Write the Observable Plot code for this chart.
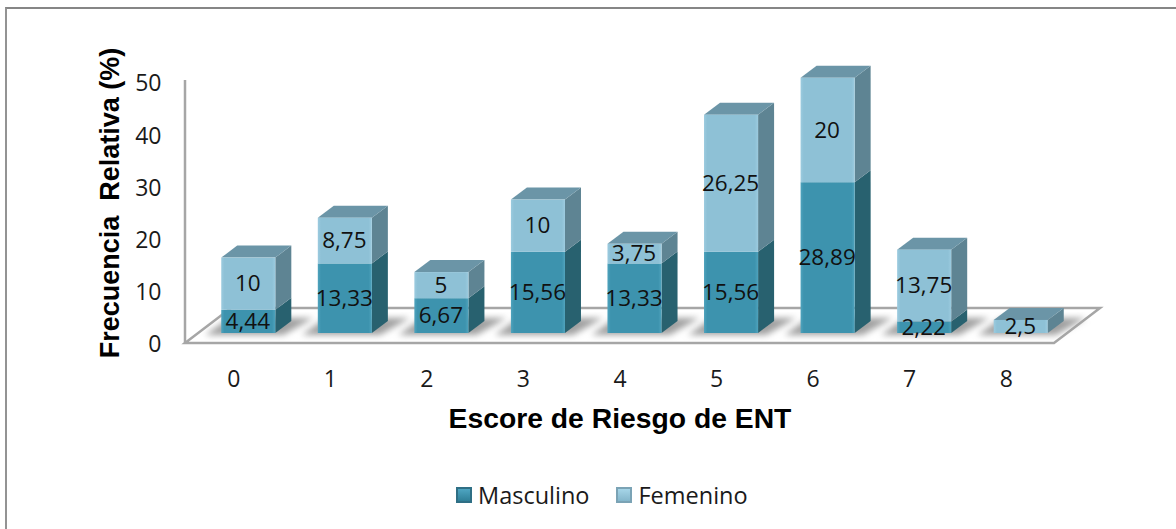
<!DOCTYPE html>
<html>
<head>
<meta charset="utf-8">
<script src="https://cdn.jsdelivr.net/npm/d3@7"></script>
<script src="https://cdn.jsdelivr.net/npm/@observablehq/plot@0.6"></script>
<style>
html,body{margin:0;padding:0;background:#fff;overflow:hidden}
#wrap{position:relative;width:1176px;height:529px;overflow:hidden}
#border{position:absolute;left:5px;top:7px;width:1180px;height:540px;border-left:2.5px solid #939393;border-top:2.5px solid #868686;box-sizing:content-box}
#chart{position:absolute;left:0;top:0}
#legend{position:absolute;left:456px;top:480px;display:flex;align-items:center;font:23.5px "Open Sans",sans-serif;color:#1a1a1a;height:30px}
.sw{width:16px;height:16px;display:inline-block;margin-right:6px;box-sizing:border-box}
</style>
</head>
<body>
<div id="wrap"><div id="border"></div><div id="chart"></div>
<div id="legend">
<span class="sw" style="background:linear-gradient(#4ea5c2,#2f7f98);border:2px solid #2f6f85"></span><span style="margin-right:27px">Masculino</span>
<span class="sw" style="background:linear-gradient(#a6d5e8,#84b6cb);border:2px solid #7ba3b5"></span><span>Femenino</span>
</div></div>
<script>
const categories = ["0","1","2","3","4","5","6","7","8"];
const masculino = [4.44,13.33,6.67,15.56,13.33,15.56,28.89,2.22,0];
const femenino = [10,8.75,5,10,3.75,26.25,20,13.75,2.5];
const yTicks = [0,10,20,30,40,50];
const seriesNames = ["Masculino","Femenino"];
const yTitle = "Frecuencia  Relativa (%)";
const xTitle = "Escore de Riesgo de ENT";

const rows = categories.flatMap((c,i)=>[
  {cat:c, serie:seriesNames[0], value:masculino[i], y1:0, y2:masculino[i]},
  {cat:c, serie:seriesNames[1], value:femenino[i], y1:masculino[i], y2:masculino[i]+femenino[i]}
]);
const fmt = v => String(v).replace(".",",");

// depth geometry (styling of the pseudo 3D projection, in px)
const OFF = {dx:15, dy:-10};     // bars sit back from the floor's front edge
const DEPTH = {dx:16, dy:-12};   // depth of each bar
const FLOOR = {dx:46, dy:-35};   // depth of the floor

const NS = "http://www.w3.org/2000/svg";
const el = (n,a)=>{const e=document.createElementNS(NS,n);for(const k in a)e.setAttribute(k,a[k]);return e;};
const poly = pts => pts.map(p=>p.join(",")).join(" ");
const bw = s => typeof s.bandwidth==="function"?s.bandwidth():s.bandwidth;

function floorMark(index, {x,y}){
  const g = el("g",{});
  const defs = el("defs",{});
  const blur = el("filter",{id:"soft",x:"-30%",y:"-30%",width:"160%",height:"160%"});
  blur.appendChild(el("feGaussianBlur",{stdDeviation:"3"}));
  defs.appendChild(blur);
  for (const [id,a,b] of [["gM","#4fa3bd","#3d93ae"],["gF","#9ccbdf","#8ec1d6"]]) {
    const lg = el("linearGradient",{id,x1:"0",x2:"1",y1:"0",y2:"0"});
    [[0,a],[.06,b],[.94,b],[1,a]].forEach(([o,c])=>lg.appendChild(el("stop",{offset:o,"stop-color":c})));
    defs.appendChild(lg);
  }
  g.appendChild(defs);
  const y0=y(0);
  const x0=x(categories[0]), w=bw(x), st=x(categories[1])-x0;
  const left=x0-(st-w)/2, right=x(categories[categories.length-1])+w+(st-w)/2;
  g.appendChild(el("polygon",{points:poly([[left,y0],[right,y0],[right+FLOOR.dx,y0+FLOOR.dy],[left+FLOOR.dx,y0+FLOOR.dy]]),fill:"#fff",stroke:"#a6a6a6","stroke-width":2.5}));
  const sh = el("g",{filter:"url(#soft)",fill:"#a0a0a0"});
  for(const c of categories){
    const a=x(c)+OFF.dx, b=a+w, by=y0+OFF.dy+2, ty=by+DEPTH.dy-5;
    sh.appendChild(el("polygon",{points:poly([[a-16,by],[b+8,by],[b+DEPTH.dx+22,ty],[a+DEPTH.dx-8,ty]])}));
  }
  g.appendChild(sh);
  g.appendChild(el("line",{x1:left,x2:left,y1:y0,y2:y(50)-2,stroke:"#a6a6a6","stroke-width":2.5}));
  return g;
}

function depthMark(index, {x,y}){
  const g = el("g",{});
  const w = bw(x);
  const colors = {Masculino:"#28616f",Femenino:"#5e8493"};
  for(const r of rows){
    if(!(r.value>0)) continue;
    const a=x(r.cat)+OFF.dx+w, t=y(r.y2)+OFF.dy, b=y(r.y1)+OFF.dy;
    g.appendChild(el("polygon",{points:poly([[a,b],[a,t],[a+DEPTH.dx,t+DEPTH.dy],[a+DEPTH.dx,b+DEPTH.dy]]),fill:colors[r.serie]}));
  }
  for(const c of categories){
    const top=d3.max(rows.filter(r=>r.cat===c),r=>r.y2);
    const a=x(c)+OFF.dx, t=y(top)+OFF.dy;
    g.appendChild(el("polygon",{points:poly([[a,t],[a+w,t],[a+w+DEPTH.dx,t+DEPTH.dy],[a+DEPTH.dx,t+DEPTH.dy]]),fill:"#6b95a7"}));
  }
  return g;
}

const textFont = "'Open Sans',sans-serif";
const plot = Plot.plot({
  width:1176, height:470,
  marginLeft:185, marginRight:122, marginTop:82, marginBottom:127,
  style:{background:"transparent",overflow:"visible"},
  x:{type:"band",domain:categories,paddingInner:.44,paddingOuter:.22,round:false,label:null},
  y:{domain:[0,50],ticks:yTicks,label:null},
  marks:[
    floorMark,
    depthMark,
    Plot.rectY(rows.filter(r=>r.value>0),{x:"cat",y1:"y1",y2:"y2",dx:OFF.dx,dy:OFF.dy,
      fill:r=>r.serie===seriesNames[0]?"url(#gM)":"url(#gF)"}),
    Plot.text(rows.filter(r=>r.value>0),{x:"cat",y:r=>(r.y1+r.y2)/2,text:r=>fmt(r.value),dx:OFF.dx-1,dy:OFF.dy,
      fontSize:22.5,fontFamily:textFont,fill:"#111"}),
    Plot.axisY(yTicks,{tickSize:0,tickPadding:24,dy:1.5,label:null,fontSize:23,fontFamily:textFont,fill:"#1a1a1a"}),
    Plot.axisX({tickSize:0,tickPadding:27,label:null,fontSize:23,fontFamily:textFont,fill:"#1a1a1a"}),
    Plot.text([yTitle],{frameAnchor:"left",textAnchor:"middle",dx:-75,dy:-10,rotate:-90,fontSize:27,fontWeight:"bold",fontFamily:"'Liberation Sans',sans-serif",fill:"#000"}),
    Plot.text([xTitle],{frameAnchor:"bottom",dy:84,fontSize:28.3,fontWeight:"bold",fontFamily:"'Liberation Sans',sans-serif",fill:"#000"})
  ]
});
document.getElementById("chart").appendChild(plot);
</script>
</body>
</html>
